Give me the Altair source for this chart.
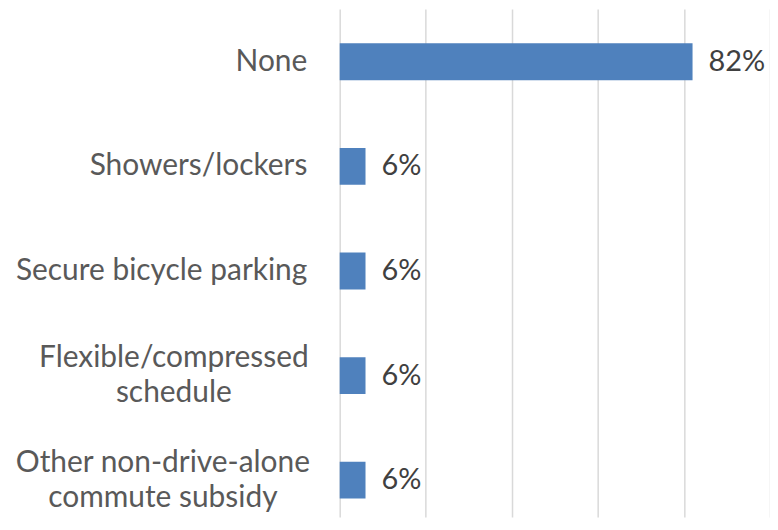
import altair as alt
import pandas as pd

categories = ["None", "Showers/lockers", "Secure bicycle parking",
              "Flexible/compressed|schedule", "Other non-drive-alone|commute subsidy"]
values = [82, 6, 6, 6, 6]
value_labels = ["82%", "6%", "6%", "6%", "6%"]

df = pd.DataFrame({"cat": categories, "val": values, "lab": value_labels})

FONT = "Lato"
MULTI = "indexof(datum.value, '|') >= 0"

y = alt.Y("cat:N", sort=categories, title=None,
          scale=alt.Scale(paddingInner=0.648, paddingOuter=0.2524, align=0.651),
          axis=alt.Axis(domain=False, ticks=False,
                        labelPadding={"condition": [
                            {"test": "datum.value == 'Flexible/compressed|schedule'", "value": 167},
                            {"test": "datum.value == 'Other non-drive-alone|commute subsidy'", "value": 178}],
                            "value": 33},
                        labelAlign={"condition": {"test": MULTI, "value": "center"}, "value": "right"},
                        labelOffset={"condition": {"test": MULTI, "value": -17.5}, "value": 0},
                        labelFont=FONT, labelFontSize=30, labelColor="#595959",
                        labelLimit=400, labelLineHeight=35,
                        labelExpr="split(datum.label, '|')",
                        minExtent=333, maxExtent=333))
x = alt.X("val:Q", title=None,
          scale=alt.Scale(domain=[0, 100], nice=False),
          axis=alt.Axis(values=[0, 20, 40, 60, 80, 100], labels=False, ticks=False,
                        domain=False, grid=True, gridColor="#d9d9d9", gridWidth=1.5))

bars = alt.Chart(df).mark_bar(color="#4f81bd").encode(x=x, y=y)
text = alt.Chart(df).mark_text(align="left", baseline="middle", dx=16,
                               font=FONT, fontSize=29, color="#404040").encode(
    x="val:Q", y=alt.Y("cat:N", sort=categories), text="lab:N")

chart = (bars + text).properties(width=432, height=510, padding=0).configure_view(stroke=None)

chart.save("out.html", embed_options={"renderer": "svg", "actions": False})
